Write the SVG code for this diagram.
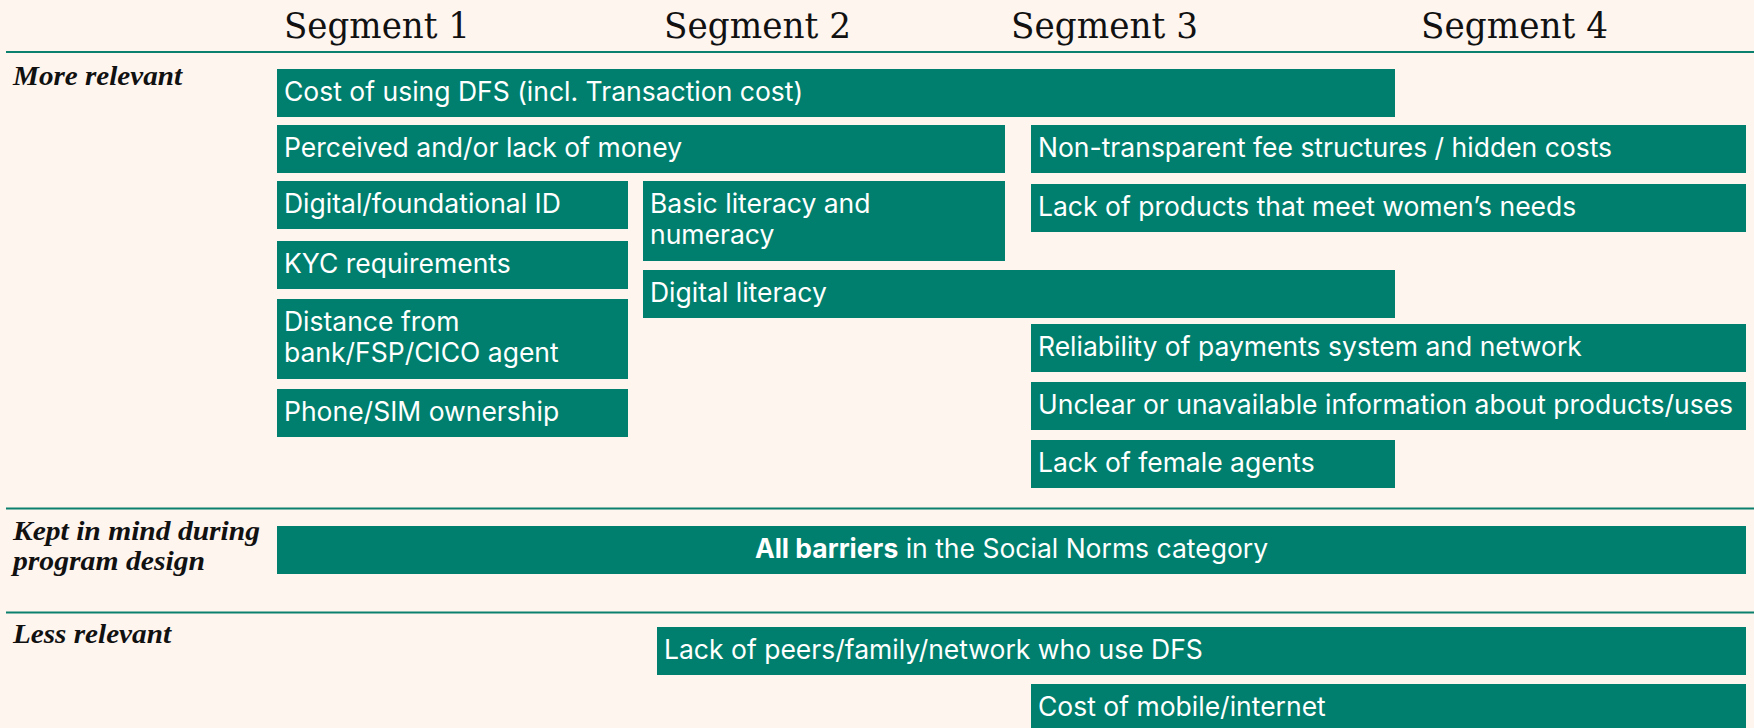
<svg xmlns="http://www.w3.org/2000/svg" width="1754" height="728" viewBox="0 0 1754 728">
  <style>
    .bg { fill: #FEF5EF; }
    .rule { stroke: #0B806E; stroke-width: 2; fill: none; }
    .seg { font-family: "DejaVu Serif", "Liberation Serif", serif; font-size: 34.5px; fill: #111; }
    .tier { font-family: "Liberation Serif", serif; font-size: 27px; font-weight: bold; font-style: italic; fill: #111; }
    .box rect { fill: #007F6E; }
    .box text { font-family: Inter, "Liberation Sans", sans-serif; font-size: 26.5px; fill: #FFFFFF; }
    .b { font-weight: bold; }
  </style>

  <rect class="bg" x="0" y="0" width="1754" height="728"/>

  <!-- column headings -->
  <g id="segments">
    <text class="seg" x="284" y="38" textLength="186" lengthAdjust="spacingAndGlyphs">Segment 1</text>
    <text class="seg" x="664" y="38" textLength="187" lengthAdjust="spacingAndGlyphs">Segment 2</text>
    <text class="seg" x="1011" y="38" textLength="187" lengthAdjust="spacingAndGlyphs">Segment 3</text>
    <text class="seg" x="1421" y="38" textLength="187" lengthAdjust="spacingAndGlyphs">Segment 4</text>
  </g>

  <!-- tier dividers -->
  <g id="connectors">
    <line class="rule" x1="6" y1="52" x2="1754" y2="52"/>
    <line class="rule" x1="6" y1="508.5" x2="1754" y2="508.5"/>
    <line class="rule" x1="6" y1="612.5" x2="1754" y2="612.5"/>
  </g>

  <!-- tier labels -->
  <g id="tier-labels">
    <text class="tier" x="13" y="85" textLength="169" lengthAdjust="spacingAndGlyphs">More relevant</text>
    <text class="tier" x="13" y="540" textLength="247" lengthAdjust="spacingAndGlyphs">Kept in mind during</text>
    <text class="tier" x="13" y="570" textLength="192" lengthAdjust="spacingAndGlyphs">program design</text>
    <text class="tier" x="13" y="643" textLength="158" lengthAdjust="spacingAndGlyphs">Less relevant</text>
  </g>

  <!-- more relevant barriers -->
  <g id="cost-dfs" class="box"><rect x="277" y="69" width="1118" height="48"/><text x="284" y="101">Cost of using DFS (incl. Transaction cost)</text></g>
  <g id="lack-money" class="box"><rect x="277" y="125" width="728" height="48"/><text x="284" y="157">Perceived and/or lack of money</text></g>
  <g id="hidden-costs" class="box"><rect x="1031" y="125" width="715" height="48"/><text x="1038" y="157">Non-transparent fee structures / hidden costs</text></g>
  <g id="digital-id" class="box"><rect x="277" y="181" width="351" height="48"/><text x="284" y="213">Digital/foundational ID</text></g>
  <g id="basic-literacy" class="box"><rect x="643" y="181" width="362" height="80"/><text x="650" y="213">Basic literacy and</text><text x="650" y="244">numeracy</text></g>
  <g id="womens-needs" class="box"><rect x="1031" y="184" width="715" height="48"/><text x="1038" y="216">Lack of products that meet women’s needs</text></g>
  <g id="kyc" class="box"><rect x="277" y="241" width="351" height="48"/><text x="284" y="273">KYC requirements</text></g>
  <g id="digital-literacy" class="box"><rect x="643" y="270" width="752" height="48"/><text x="650" y="302">Digital literacy</text></g>
  <g id="distance" class="box"><rect x="277" y="299" width="351" height="80"/><text x="284" y="331">Distance from</text><text x="284" y="362">bank/FSP/CICO agent</text></g>
  <g id="reliability" class="box"><rect x="1031" y="324" width="715" height="48"/><text x="1038" y="356">Reliability of payments system and network</text></g>
  <g id="unclear-info" class="box"><rect x="1031" y="382" width="715" height="48"/><text x="1038" y="414">Unclear or unavailable information about products/uses</text></g>
  <g id="phone-sim" class="box"><rect x="277" y="389" width="351" height="48"/><text x="284" y="421">Phone/SIM ownership</text></g>
  <g id="female-agents" class="box"><rect x="1031" y="440" width="364" height="48"/><text x="1038" y="472">Lack of female agents</text></g>

  <!-- kept in mind -->
  <g id="social-norms" class="box"><rect x="277" y="526" width="1469" height="48"/><text x="1011.5" y="558" text-anchor="middle"><tspan class="b">All barriers</tspan> in the Social Norms category</text></g>

  <!-- less relevant barriers -->
  <g id="peers" class="box"><rect x="657" y="627" width="1089" height="48"/><text x="664" y="659">Lack of peers/family/network who use DFS</text></g>
  <g id="mobile-cost" class="box"><rect x="1031" y="684" width="715" height="48"/><text x="1038" y="716">Cost of mobile/internet</text></g>
</svg>
